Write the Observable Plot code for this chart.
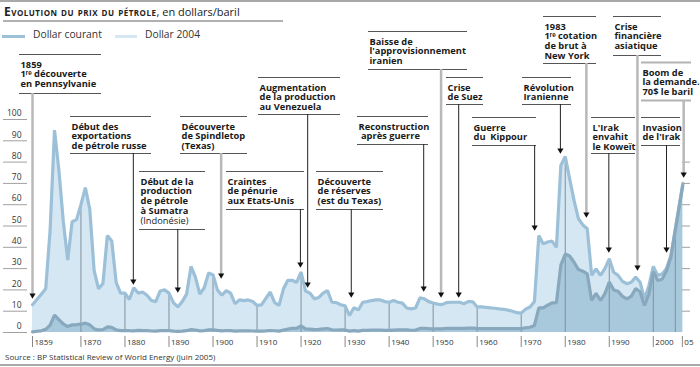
<!DOCTYPE html>
<html><head><meta charset="utf-8">
<script src="https://cdn.jsdelivr.net/npm/d3@7"></script>
<script src="https://cdn.jsdelivr.net/npm/@observablehq/plot@0.6"></script>
<style>
body{margin:0;background:#fff;font-family:"Open Sans",sans-serif;}
#wrap{position:relative;width:700px;height:367px;overflow:hidden;}
.abs{position:absolute;}
</style></head>
<body><div id="wrap"><div id="chart"></div></div>
<script>
// ---------- DATA ----------
const years = d3.range(1859, 2005).concat([2006.7]);
const dollar2004 = [
13,15.5,18,20.5,48,95,76,52,34,52,53,60,68,58,29,20.5,23,45.5,43,23.5,18.5,
18.5,15.5,21,18.5,19,17.5,15,14.5,19.5,20,18.5,14,12,14.5,18,31,26,18,21,28,
27,20,17.5,19.7,18.5,13.5,15.3,15,15.3,14.6,12.7,13,16,19,14,12.7,20.5,24.5,24.5,23.5,
28.3,19.5,18.5,15.8,16.4,18.5,19.7,14.2,14,13,12.5,8,11.6,10.6,14.2,14.5,15,15.3,15.3,14.5,
14.2,15,14.2,13.8,11.5,11.1,11.5,16.3,15.8,14.5,13.8,13.3,13.1,14,14.2,14.2,14.2,13.5,14.6,14.4,
12,12,11.8,11.6,11.4,11.1,10.9,10.5,10,9.3,9.1,11,12,14.5,45.5,41.6,42.5,42.9,40,78.4,
82.6,72.2,62,53.4,50.5,48.7,26.8,29.9,26.8,30,34.6,28.3,26.8,24,22.9,23.6,26,23.6,15.8,22,
31,26.8,27.5,30,36.2,70];
const dollarCourant = [
0.3,0.6,0.8,1.5,3.5,8.2,6,4,2.8,3.6,3.7,3.9,4.4,3.6,1.8,1.2,1.4,2.6,2.4,1.2,0.9,
0.95,0.86,0.78,1.0,0.84,0.88,0.71,0.67,0.88,0.94,0.87,0.67,0.56,0.64,0.84,1.36,1.18,0.79,0.91,1.29,
1.19,0.96,0.8,0.94,0.86,0.62,0.73,0.72,0.72,0.7,0.61,0.61,0.74,0.95,0.81,0.64,1.1,1.56,1.98,2.01,
3.07,1.73,1.61,1.34,1.43,1.68,1.88,1.3,1.17,1.27,1.19,0.65,0.87,0.67,1.0,0.97,1.09,1.18,1.13,1.02,
1.02,1.14,1.19,1.2,1.21,1.05,1.12,1.9,1.99,1.78,1.71,1.71,1.71,1.93,1.93,1.93,1.93,1.9,2.08,2.08,
1.9,1.8,1.8,1.8,1.8,1.8,1.8,1.8,1.8,1.8,1.8,2.24,2.48,3.29,11.58,11.53,12.8,13.92,14.02,31.61,
36.83,35.93,32.97,29.55,28.78,27.56,15,18.44,15,18.23,23.73,20,19.32,16.97,15.82,17.02,20.67,19.09,12.72,17.97,
28.5,24.44,25.02,28.83,35.5,69];
const yTicks = [0,10,20,30,40,50,60,70,80,90,100];
const rightTicks = [10,20,30,40,50,60,70,80];
const xTickYears = [1859,1870,1880,1890,1900,1910,1920,1930,1940,1950,1960,1970,1980,1990,2000,2006.6];
const xTickLabels = ["1859","1870","1880","1890","1900","1910","1920","1930","1940","1950","1960","1970","1980","1990","2000","05"];
const gridYears = [1870,1880,1890,1900,1910,1920,1930,1940,1950,1960,1970,1980,1990,2000,2005];

// annotations: event year, bold text lines, optional regular-weight last line
const notes = [
 {year:1859,    lines:["1859","1\u02b3\u1d49 découverte","en Pennsylvanie"]},
 {year:1881.9,  lines:["Début des","exportations","de pétrole russe"]},
 {year:1901.85, lines:["Découverte","de Spindletop","(Texas)"]},
 {year:1892,    lines:["Début de la","production","de pétrole","à Sumatra"], regular:"(Indonésie)"},
 {year:1919.85, lines:["Craintes","de pénurie","aux Etats-Unis"]},
 {year:1921.5,  lines:["Augmentation","de la production","au Venezuela"]},
 {year:1931.4,  lines:["Découverte","de réserves","(est du Texas)"]},
 {year:1947.85, lines:["Reconstruction","\u00a0après guerre"]},
 {year:1951.8,  lines:["Baisse de","l'approvisionnement","iranien"]},
 {year:1955.8,  lines:["Crise","de Suez"]},
 {year:1973.05, lines:["Guerre","du\u00a0 Kippour"]},
 {year:1978.9,  lines:["Révolution","Iranienne"]},
 {year:1984.8,  lines:["1983","1\u02b3\u1d49 cotation","de brut à","New York"]},
 {year:1989.9,  lines:["L'Irak","envahit","le Koweït"]},
 {year:1996.4,  lines:["Crise","financière","asiatique"]},
 {year:2006.9,  lines:["Boom de","la demande.","70$ le baril"]},
 {year:2003,    lines:["Invasion","de l'Irak"]}
];
// annotation box layout (pixels): left, right, top rule, bottom rule, arrow tip, pointer style
const boxLayout = [
 {L:19,R:101,T:54,B:93,tip:298,gray:true},
 {L:70,R:151,T:116,B:153,tip:284},
 {L:180,R:247,T:116,B:153,tip:278,gray:true},
 {L:139,R:205,T:171,B:229,tip:292},
 {L:226,R:304,T:171,B:209,tip:267},
 {L:258,R:340,T:77,B:114,tip:287},
 {L:316,R:383,T:171,B:209,tip:297},
 {L:357,R:428,T:116,B:144,tip:291},
 {L:368,R:467,T:31,B:69,tip:297,gray:true},
 {L:446,R:483,T:77,B:104,tip:297},
 {L:472,R:536,T:117,B:145,tip:230},
 {L:522,R:571,T:77,B:104,tip:153},
 {L:543,R:596,T:16,B:63,tip:217,gray:true},
 {L:591,R:635,T:117,B:153,tip:252},
 {L:613,R:661,T:16,B:55,tip:270,gray:true},
 {L:641,R:691,T:62,B:100,tip:177,gray:true,grayRule:true},
 {L:641,R:680,T:117,B:145,tip:252}
];

// ---------- SCALES ----------
const X_DOMAIN=[1859,2006.7], X_RANGE=[32,682.3];
const Y_DOMAIN=[0,100], Y_RANGE=[332,119];
const xs = d3.scaleLinear(X_DOMAIN, X_RANGE);
const ys = d3.scaleLinear(Y_DOMAIN, Y_RANGE);
const XI = px => xs.invert(px), YI = py => ys.invert(py);

const table = years.map((year,i)=>({year, v2004:dollar2004[i], cour:dollarCourant[i]}));
const interp = yr => {
  const i = d3.bisectLeft(years, yr);
  if (years[i] === yr) return dollar2004[i];
  const t = (yr-years[i-1])/(years[i]-years[i-1]);
  return dollar2004[i-1] + t*(dollar2004[i]-dollar2004[i-1]);
};
const grid = gridYears.map(y=>({year:y, top:interp(y)}));

const FS = 9.3, LH = 10; // annotation font size and line spacing (px)
const boxes = notes.map((n,i)=>({...n, ...boxLayout[i]}));
const rules = boxes.flatMap(b=>[{x1:XI(b.L),x2:XI(b.R),y:YI(b.T),gray:b.grayRule},{x1:XI(b.L),x2:XI(b.R),y:YI(b.B),gray:b.grayRule}]);
const boldTexts = boxes.map(b=>({x:XI(b.L+1), y:YI(b.T+5.9), t:b.lines.join("\n")}));
const regTexts = boxes.filter(b=>b.regular).map(b=>({x:XI(b.L+1), y:YI(b.T+5.9+b.lines.length*LH), t:b.regular}));
const pointers = boxes.map(b=>({x:b.year, y1:YI(b.B), y2:YI(b.tip-4), gray:b.gray}));
const arrows = boxes.map(b=>({x:b.year, y:YI(b.tip-3.3)}));

const LIGHT_FILL="#d6e7f4", LIGHT_LINE="#9cc0d8", DARK_FILL="#a8c8dc", DARK_LINE="#88a8bd";
const FONT = "'Open Sans', sans-serif";

const chart = Plot.plot({
  width:700, height:367, margin:0,
  x:{domain:X_DOMAIN, range:X_RANGE, axis:null},
  y:{domain:Y_DOMAIN, range:Y_RANGE, axis:null},
  style:{fontFamily:FONT, background:"transparent", overflow:"visible"},
  marks:[
    Plot.areaY(table,{x:"year", y:"v2004", fill:LIGHT_FILL}),
    Plot.areaY(table,{x:"year", y:"cour", fill:DARK_FILL}),
    Plot.ruleX(grid,{x:"year", y1:0, y2:"top", stroke:"#7f909c", strokeWidth:1}),
    Plot.lineY(table,{x:"year", y:"v2004", stroke:LIGHT_LINE, strokeWidth:3.2, strokeLinejoin:"miter"}),
    Plot.lineY(table,{x:"year", y:"cour", stroke:DARK_LINE, strokeWidth:3.2, strokeLinejoin:"miter"}),
    // left y axis
    Plot.ruleY(yTicks,{y:d=>d, x1:XI(3), x2:XI(27), stroke:"#a0a0a0", strokeWidth:1}),
    Plot.text(yTicks,{y:d=>d, x:XI(21), text:d=>String(d), textAnchor:"end", dy:-6, fontSize:8.5, fill:"#333"}),
    // right ticks
    Plot.ruleY(rightTicks,{y:d=>d, x1:XI(682), x2:XI(690), stroke:"#a0a0a0", strokeWidth:1}),
    // x axis
    Plot.ruleX(xTickYears,{x:d=>d, y1:YI(336), y2:YI(347), stroke:"#888", strokeWidth:1}),
    Plot.text(xTickYears,{x:d=>d, y:YI(342), text:(d,i)=>xTickLabels[i], textAnchor:"start", dx:2, fontSize:8, fill:"#333"}),
    // annotations
    Plot.ruleY(rules.filter(r=>!r.gray),{x1:"x1", x2:"x2", y:"y", stroke:"#555", strokeWidth:1}),
    Plot.ruleY(rules.filter(r=>r.gray),{x1:"x1", x2:"x2", y:"y", stroke:"#b3b3b3", strokeWidth:2}),
    Plot.ruleX(pointers.filter(p=>p.gray),{x:"x", y1:"y1", y2:"y2", stroke:"#b8b8b8", strokeWidth:2.5}),
    Plot.ruleX(pointers.filter(p=>!p.gray),{x:"x", y1:"y1", y2:"y2", stroke:"#222", strokeWidth:1}),
    Plot.dot(arrows,{x:"x", y:"y", symbol:"triangle", rotate:180, r:2.3, fill:"#111", stroke:null}),
    Plot.text(boldTexts,{x:"x", y:"y", text:"t", textAnchor:"start", lineAnchor:"top", lineHeight:LH/FS, fontSize:FS, fontWeight:"bold", fill:"#1a1a1a"}),
    Plot.text(regTexts,{x:"x", y:"y", text:"t", textAnchor:"start", lineAnchor:"top", fontSize:FS, fill:"#1a1a1a"})
  ]
});
const wrap = document.getElementById("wrap");
document.getElementById("chart").appendChild(chart);
chart.style.position="absolute"; chart.style.left="0"; chart.style.top="0";

function addDiv(css, html){const d=document.createElement("div");d.className="abs";d.style.cssText=css;if(html)d.innerHTML=html;wrap.appendChild(d);}
addDiv("left:0;top:0;width:700px;height:2px;background:#a8a8a8;");
addDiv("left:4px;top:4px;font-size:11px;color:#222;white-space:nowrap;line-height:15px;",
  '<span style="font-weight:bold;font-variant:small-caps;font-size:12px;letter-spacing:0.5px;">Evolution du prix du pétrole</span>, en dollars/baril');
addDiv("left:3px;top:20px;width:280px;height:2px;background:#b0b0b0;");
addDiv("left:2px;top:35px;width:23px;height:3px;background:"+LIGHT_LINE+";");
addDiv("left:33px;top:28px;font-size:10.3px;color:#333;line-height:13px;white-space:nowrap;","Dollar courant");
addDiv("left:115px;top:35px;width:22px;height:3px;background:"+LIGHT_FILL+";");
addDiv("left:145px;top:28px;font-size:10.3px;color:#333;line-height:13px;white-space:nowrap;","Dollar 2004");
addDiv("left:5px;top:351px;font-size:8px;color:#333;line-height:11px;white-space:nowrap;","Source : BP Statistical Review of World Energy (juin 2005)");
addDiv("left:0;top:364px;width:700px;height:2px;background:#a8a8a8;");
</script></body></html>
